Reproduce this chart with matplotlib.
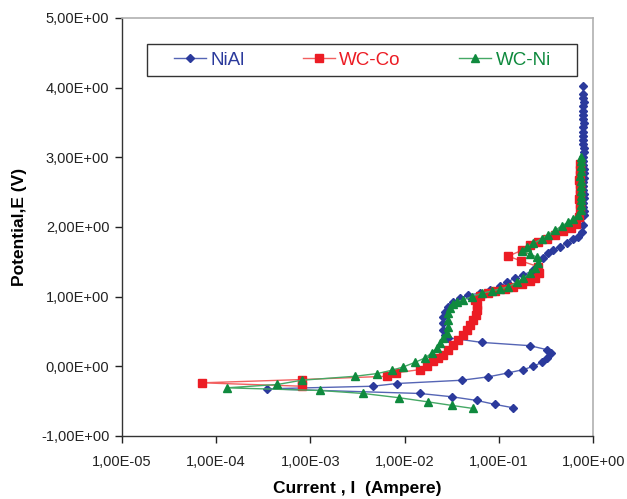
import numpy as np
import matplotlib
matplotlib.use("Agg")
import matplotlib.pyplot as plt
from matplotlib.patches import Rectangle
from matplotlib.ticker import FuncFormatter, FixedLocator

plt.rcParams["font.family"] = ["Liberation Sans", "DejaVu Sans"]

# -------------------------
# Data (log10 of current in A, potential in V)
# -------------------------

nial_logi = [
    -0.855, -1.042, -1.236, -1.502, -1.838, -3.457, -2.339, -2.085, -1.396,
    -1.113, -0.901, -0.742, -0.636, -0.547, -0.494, -0.452, -0.494, -0.671,
    -1.183, -1.541, -1.573, -1.597, -1.591, -1.591, -1.573, -1.538, -1.485,
    -1.414, -1.326, -1.201, -1.095, -0.989, -0.915, -0.830, -0.742, -0.636,
    -0.583, -0.530, -0.477, -0.424, -0.353, -0.276, -0.212, -0.159, -0.123,
    -0.106, -0.099,
    -0.102, -0.105, -0.108, -0.104, -0.101, -0.106, -0.110, -0.107, -0.103,
    -0.100, -0.104, -0.108, -0.111, -0.107, -0.104, -0.101, -0.105, -0.109,
    -0.112, -0.108, -0.105, -0.102, -0.106, -0.110, -0.108, -0.105, -0.103,
    -0.106, -0.109, -0.107,
]
nial_e = [
    -0.594, -0.547, -0.490, -0.437, -0.390, -0.323, -0.286, -0.247, -0.200,
    -0.151, -0.094, -0.047, 0.000, 0.057, 0.120, 0.191, 0.239, 0.296,
    0.343, 0.410, 0.453, 0.524, 0.620, 0.714, 0.786, 0.857, 0.929,
    0.977, 1.024, 1.049, 1.096, 1.153, 1.203, 1.271, 1.310, 1.381,
    1.453, 1.549, 1.620, 1.667, 1.714, 1.771, 1.824, 1.857, 1.929,
    2.024, 2.167,
    2.230, 2.290, 2.350, 2.410, 2.470, 2.530, 2.590, 2.650, 2.710,
    2.770, 2.830, 2.890, 2.950, 3.010, 3.070, 3.130, 3.190, 3.250,
    3.310, 3.370, 3.430, 3.490, 3.550, 3.610, 3.670, 3.730, 3.790,
    3.850, 3.910, 4.020,
]

wcco_logi = [
    -3.086, -4.153, -3.092, -2.191, -2.092, -1.838, -1.767, -1.697, -1.644,
    -1.591, -1.538, -1.485, -1.432, -1.379, -1.343, -1.308, -1.273, -1.244,
    -1.230, -1.230, -1.255, -1.201, -1.117, -1.042, -0.936, -0.848, -0.759,
    -0.671, -0.618, -0.573, -0.583, -0.770, -0.901, -0.756, -0.671, -0.583,
    -0.494, -0.406, -0.318, -0.240, -0.183, -0.148, -0.141,
    -0.144, -0.147, -0.145, -0.142, -0.146, -0.148, -0.144, -0.143, -0.146,
]
wcco_e = [
    -0.286, -0.237, -0.190, -0.143, -0.094, -0.047, 0.010, 0.071, 0.120,
    0.167, 0.239, 0.310, 0.381, 0.453, 0.524, 0.596, 0.667, 0.739,
    0.810, 0.881, 0.953, 1.010, 1.053, 1.074, 1.110, 1.143, 1.177,
    1.224, 1.271, 1.334, 1.429, 1.514, 1.581, 1.667, 1.739, 1.786,
    1.834, 1.891, 1.939, 1.986, 2.049, 2.143, 2.263,
    2.330, 2.400, 2.470, 2.540, 2.610, 2.680, 2.750, 2.820, 2.910,
]

wcni_logi = [
    -1.281, -1.502, -1.750, -2.060, -2.439, -2.898, -3.888, -3.351, -3.092,
    -2.527, -2.291, -2.138, -2.015, -1.891, -1.785, -1.714, -1.661, -1.626,
    -1.591, -1.555, -1.538, -1.538, -1.538, -1.520, -1.491, -1.449, -1.379,
    -1.290, -1.183, -1.077, -0.989, -0.901, -0.812, -0.742, -0.671, -0.618,
    -0.583, -0.597, -0.671, -0.756, -0.706, -0.636, -0.547, -0.477, -0.406,
    -0.335, -0.265, -0.212, -0.159, -0.133,
    -0.135, -0.132, -0.136, -0.134, -0.131, -0.135, -0.137, -0.133, -0.134,
    -0.136, -0.133,
]
wcni_e = [
    -0.604, -0.561, -0.511, -0.451, -0.390, -0.347, -0.309, -0.261, -0.200,
    -0.143, -0.104, -0.057, -0.009, 0.057, 0.120, 0.191, 0.263, 0.334,
    0.406, 0.477, 0.571, 0.667, 0.763, 0.834, 0.896, 0.929, 0.953,
    1.000, 1.049, 1.081, 1.110, 1.143, 1.206, 1.263, 1.334, 1.406,
    1.477, 1.567, 1.610, 1.653, 1.714, 1.763, 1.834, 1.891, 1.953,
    2.014, 2.071, 2.120, 2.167, 2.239,
    2.310, 2.380, 2.450, 2.520, 2.590, 2.660, 2.730, 2.800, 2.870,
    2.940, 3.000,
]

x_ticks = [1e-5, 1e-4, 1e-3, 1e-2, 1e-1, 1e0]
y_ticks = [-1, 0, 1, 2, 3, 4, 5]

# -------------------------
# Figure
# -------------------------

fig = plt.figure(figsize=(6.27, 4.99), dpi=100)
ax = fig.add_axes([0.1943, 0.1263, 0.752, 0.8377])

series = [
    ("NiAl", nial_logi, nial_e, "D", 4.5, "#2b3a9c", "#5565b5"),
    ("WC-Co", wcco_logi, wcco_e, "s", 5.5, "#ec1c24", "#f26060"),
    ("WC-Ni", wcni_logi, wcni_e, "^", 6.0, "#0f8a3e", "#45a865"),
]

for name, li, e, mk, ms, mc, lc in series:
    cur = 10 ** np.array(li)
    ax.plot(cur, e, color=lc, lw=1.0, marker=mk, ms=ms,
            mfc=mc, mec=mc, label=name)

ax.set_xscale("log")
ax.set_xlim(1e-5, 1e0)
ax.set_ylim(-1, 5)
ax.xaxis.set_major_locator(FixedLocator(x_ticks))
ax.xaxis.set_minor_locator(FixedLocator([]))
ax.yaxis.set_major_locator(FixedLocator(y_ticks))


def sci_comma(v, pos):
    return f"{v:.2E}".replace(".", ",")


ax.xaxis.set_major_formatter(FuncFormatter(sci_comma))
ax.yaxis.set_major_formatter(FuncFormatter(sci_comma))

ax.tick_params(axis="both", direction="out", length=5, width=1,
               labelsize=10.5, colors="#222222")
ax.tick_params(axis="x", pad=9)
ax.tick_params(axis="y", pad=4)

for side in ["left", "bottom"]:
    ax.spines[side].set_color("#333333")
    ax.spines[side].set_linewidth(1.0)
for side in ["top", "right"]:
    ax.spines[side].set_color("#b0b0b0")
    ax.spines[side].set_linewidth(1.2)

ax.set_xlabel("Current , I  (Ampere)", fontsize=12.5, fontweight="bold",
              labelpad=8)
ax.set_ylabel("Potential,E (V)", fontsize=12.5, fontweight="bold",
              labelpad=10)

# legend box drawn separately, entries centred inside it
box = Rectangle((0.054, 0.860), 0.912, 0.078, transform=ax.transAxes,
                facecolor="white", edgecolor="#333333", lw=1.0, zorder=4)
ax.add_patch(box)

leg = ax.legend(loc="center", bbox_to_anchor=(0.51, 0.899),
                ncol=3, numpoints=1, fontsize=13.5,
                handlelength=1.7, handletextpad=0.25, columnspacing=3.1,
                borderaxespad=0, borderpad=0, frameon=False)
leg.set_zorder(5)
for txt, (_, _, _, _, _, mc, _) in zip(leg.get_texts(), series):
    txt.set_color(mc)

fig.savefig("out.png", dpi=100)
